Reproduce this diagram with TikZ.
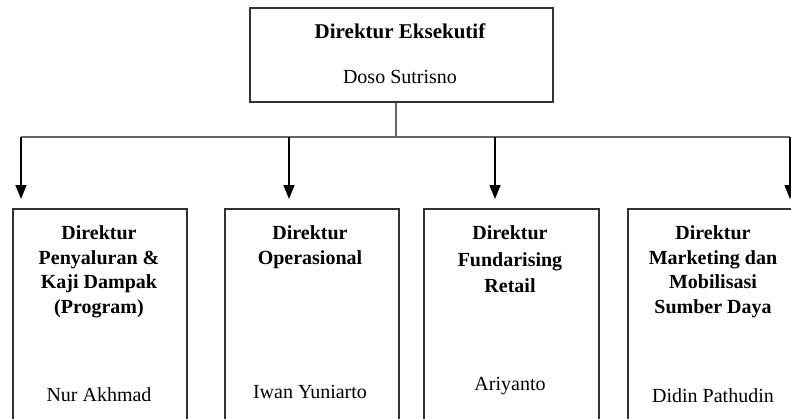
\documentclass[tikz,border=0pt]{standalone}
\usepackage{fontspec}
\setmainfont{Liberation Serif}
\usetikzlibrary{arrows.meta}
\begin{document}
\begin{tikzpicture}[x=1pt,y=-1pt,
  orgbox/.style={draw=black!80, line width=1.9pt, inner sep=0pt},
  busline/.style={draw=black!60, line width=2.2pt},
  downarr/.style={draw=black, line width=1.5pt, -{Triangle[width=11pt,length=14pt]}},
  titletext/.style={anchor=north, align=center, inner sep=0pt, font=\fontsize{20}{24.5}\selectfont\bfseries},
  nametext/.style={anchor=base, inner sep=0pt, font=\fontsize{20}{24}\selectfont}]
\useasboundingbox (0,0) rectangle (791,418);
\clip (0,0) rectangle (791,418);
% top box
\node[orgbox, minimum width=303pt, minimum height=94pt] (top) at (401.5,55) {};
\node[nametext, font=\fontsize{21}{24}\selectfont\bfseries] (toptitle) at (400,38) {Direktur Eksekutif};
\node[nametext] (topname) at (400,83) {Doso Sutrisno};
% bottom boxes
\node[orgbox, minimum width=174pt, minimum height=231pt] (b1) at (100,324.5) {};
\node[orgbox, minimum width=174pt, minimum height=231pt] (b2) at (312,324.5) {};
\node[orgbox, minimum width=175pt, minimum height=231pt] (b3) at (511.5,324.5) {};
\node[orgbox, minimum width=170pt, minimum height=231pt] (b4) at (713,324.5) {};
\node[titletext] (t1title) at (99,225.5) {Direktur\\Penyaluran \&\\Kaji Dampak\\(Program)};
\node[titletext] (t2title) at (310,225.5) {Direktur\\Operasional};
\node[titletext, font=\fontsize{20}{26.5}\selectfont\bfseries] (t3title) at (510,225.5) {Direktur\\Fundarising\\Retail};
\node[titletext] (t4title) at (713,225.5) {Direktur\\Marketing dan\\Mobilisasi\\Sumber Daya};
\node[nametext] (n1) at (99,401) {Nur Akhmad};
\node[nametext] (n2) at (310,398) {Iwan Yuniarto};
\node[nametext] (n3) at (510,390) {Ariyanto};
\node[nametext] (n4) at (713,402) {Didin Pathudin};
% connectors
\coordinate (j) at (396,137);
\coordinate (a1) at (21,137);
\coordinate (a2) at (289,137);
\coordinate (a3) at (495,137);
\coordinate (a4) at (790,137);
\coordinate (e1) at (21,199);
\coordinate (e2) at (289,199);
\coordinate (e3) at (495,199);
\coordinate (e4) at (790,199);
\draw[busline] (j |- top.south) -- (j);
\draw[busline] (a1) -- (a4);
\draw[downarr] (a1) -- (e1);
\draw[downarr] (a2) -- (e2);
\draw[downarr] (a3) -- (e3);
\draw[downarr] (a4) -- (e4);
\end{tikzpicture}
\end{document}
